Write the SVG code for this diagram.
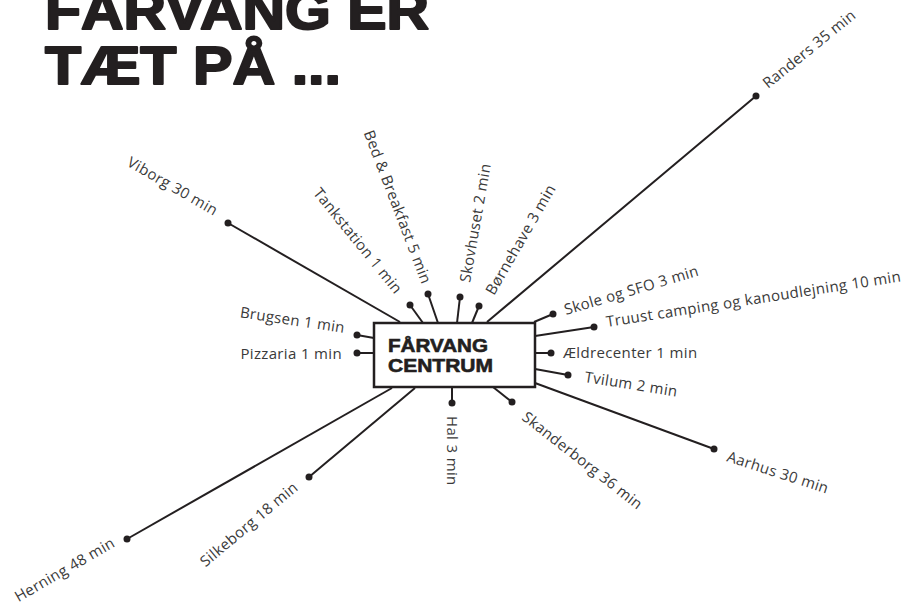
<svg xmlns="http://www.w3.org/2000/svg" width="918" height="608" viewBox="0 0 918 608">
<style>
.title{font-family:"Liberation Sans",Arial,sans-serif;font-weight:bold;font-size:53px;fill:#231f20;stroke:#231f20;stroke-width:2;stroke-linejoin:round}
.box{fill:#fff;stroke:#231f20;stroke-width:2.5}
.boxt{font-family:"Liberation Sans",Arial,sans-serif;font-weight:bold;font-size:19px;fill:#231f20;stroke:#231f20;stroke-width:0.6}
.lbl{font-family:"Open Sans","Liberation Sans",sans-serif;font-size:15px;letter-spacing:0.35px;fill:#3a3a3a}
.end{text-anchor:end}
#connectors line{stroke:#231f20;stroke-width:2}
.dot{fill:#231f20}
</style>
<defs>
<circle id="d" r="3.5" class="dot"/>
</defs>
<g id="title">
<text class="title" x="45" y="29" textLength="384" lengthAdjust="spacingAndGlyphs">FÅRVANG ER</text>
<text class="title" x="45" y="84" textLength="296" lengthAdjust="spacingAndGlyphs">TÆT PÅ ...</text>
</g>
<g id="connectors">
<line x1="228" y1="223" x2="400" y2="322"/>
<line x1="127" y1="539" x2="392" y2="388"/>
<line x1="309" y1="477" x2="415" y2="388"/>
<line x1="452" y1="403" x2="452" y2="387"/>
<line x1="512" y1="402" x2="493" y2="387"/>
<line x1="714" y1="449" x2="535" y2="383"/>
<line x1="568" y1="375" x2="535" y2="369"/>
<line x1="551" y1="353" x2="535" y2="353"/>
<line x1="594" y1="327" x2="535" y2="336"/>
<line x1="553" y1="314" x2="534" y2="322"/>
<line x1="756" y1="96" x2="487" y2="322"/>
<line x1="479" y1="306" x2="472" y2="323"/>
<line x1="460" y1="297" x2="457" y2="323"/>
<line x1="428" y1="294" x2="438" y2="323"/>
<line x1="410" y1="305" x2="423" y2="323"/>
<line x1="357" y1="335" x2="374" y2="338"/>
<line x1="357" y1="353" x2="374" y2="353"/>
</g>
<g id="centrum">
<rect class="box" x="374" y="323" width="161" height="64"/>
<text class="boxt" x="388" y="351.5" textLength="100" lengthAdjust="spacingAndGlyphs">FÅRVANG</text>
<text class="boxt" x="388" y="372" textLength="105" lengthAdjust="spacingAndGlyphs">CENTRUM</text>
</g>
<g id="viborg"><use href="#d" x="228" y="223"/><text class="lbl end" transform="translate(214,216) rotate(30)">Viborg 30 min</text></g>
<g id="herning"><use href="#d" x="127" y="539"/><text class="lbl end" transform="translate(116,546) rotate(-30)">Herning 48 min</text></g>
<g id="silkeborg"><use href="#d" x="309" y="477"/><text class="lbl end" transform="translate(299,489) rotate(-40)">Silkeborg 18 min</text></g>
<g id="hal"><use href="#d" x="452" y="403"/><text class="lbl" transform="translate(447,416) rotate(90)">Hal 3 min</text></g>
<g id="skanderborg"><use href="#d" x="512" y="402"/><text class="lbl" transform="translate(521,419) rotate(38)">Skanderborg 36 min</text></g>
<g id="aarhus"><use href="#d" x="714" y="449"/><text class="lbl" transform="translate(726,461) rotate(18)">Aarhus 30 min</text></g>
<g id="tvilum"><use href="#d" x="568" y="375"/><text class="lbl" transform="translate(584,382) rotate(9)">Tvilum 2 min</text></g>
<g id="aeldrecenter"><use href="#d" x="551" y="353"/><text class="lbl" x="563" y="358">Ældrecenter 1 min</text></g>
<g id="truust"><use href="#d" x="594" y="327"/><text class="lbl" transform="translate(607,327) rotate(-8.8)">Truust camping og kanoudlejning 10 min</text></g>
<g id="skole"><use href="#d" x="553" y="314"/><text class="lbl" transform="translate(566,315) rotate(-16.5)">Skole og SFO 3 min</text></g>
<g id="randers"><use href="#d" x="756" y="96"/><text class="lbl" transform="translate(768,89) rotate(-39)">Randers 35 min</text></g>
<g id="bornehave"><use href="#d" x="479" y="306"/><text class="lbl" transform="translate(494,296) rotate(-60)">Børnehave 3 min</text></g>
<g id="skovhuset"><use href="#d" x="460" y="297"/><text class="lbl" transform="translate(470,283) rotate(-80)">Skovhuset 2 min</text></g>
<g id="bedbreakfast"><use href="#d" x="428" y="294"/><text class="lbl end" transform="translate(422,285) rotate(69)">Bed &amp; Breakfast 5 min</text></g>
<g id="tankstation"><use href="#d" x="410" y="305"/><text class="lbl end" transform="translate(395,295) rotate(51)">Tankstation 1 min</text></g>
<g id="brugsen"><use href="#d" x="357" y="335"/><text class="lbl end" transform="translate(344,333) rotate(8.5)">Brugsen 1 min</text></g>
<g id="pizzaria"><use href="#d" x="357" y="353"/><text class="lbl end" x="342" y="359">Pizzaria 1 min</text></g>
</svg>
